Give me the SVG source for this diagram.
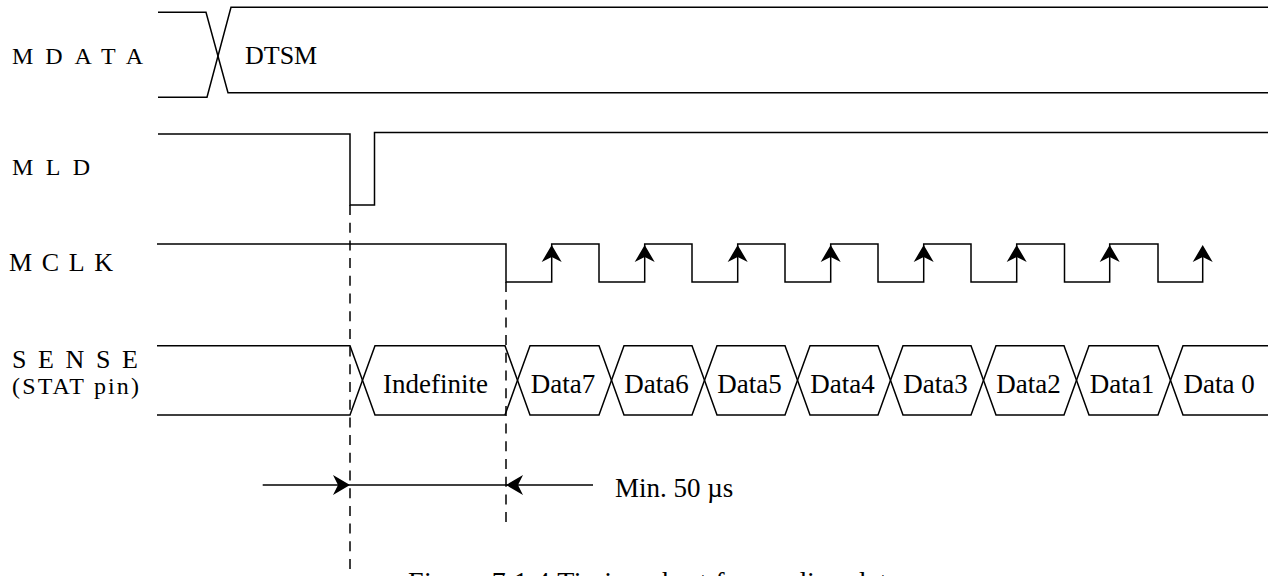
<svg xmlns="http://www.w3.org/2000/svg" xmlns:xlink="http://www.w3.org/1999/xlink" width="1272" height="576" viewBox="0 0 1272 576">
<style>
.sig{fill:none;stroke:#000;stroke-width:1.5;stroke-linejoin:miter}
.dash{fill:none;stroke:#000;stroke-width:1.5;stroke-dasharray:10 7.7}
.lbl{font-family:"Liberation Serif","Times New Roman",serif;fill:#000}
.cell{font-family:"Liberation Serif","Times New Roman",serif;font-size:27px;fill:#000;text-anchor:middle}
.ah{fill:#000;stroke:none}
</style>
<defs>
<path id="ah" d="M0,0 L-10,17 L0,12 L10,17 Z"/>
</defs>
<rect width="1272" height="576" fill="#fff"/>

<g id="mdata">
<text class="lbl" x="12" y="64" font-size="24" textLength="131" lengthAdjust="spacing">MDATA</text>
<polyline class="sig" points="158,12.3 206,12.3 228,92.7 1268,92.7"/>
<polyline class="sig" points="158,97.3 207,97.3 231,7.3 1268,7.3"/>
<text class="lbl" x="245" y="64.3" font-size="26">DTSM</text>
</g>

<g id="mld">
<text class="lbl" x="12" y="175" font-size="24" textLength="78" lengthAdjust="spacing">MLD</text>
<polyline class="sig" points="158,134 350,134 350,205 374.5,205 374.5,132.5 1268,132.5"/>
</g>

<g id="mclk">
<text class="lbl" x="9" y="270.7" font-size="26" textLength="104" lengthAdjust="spacing">MCLK</text>
<path class="sig" d="M157,244 H506 V282 H551.7 V244 H599 V282 H644.7 V244 H692 V282 H737.7 V244 H785 V282 H830.7 V244 H878 V282 H923.7 V244 H971 V282 H1016.7 V244 H1064.5 V282 H1109.7 V244 H1158 V282 H1202.7 V252"/>
<use class="ah" xlink:href="#ah" transform="translate(551.7,245)"/>
<use class="ah" xlink:href="#ah" transform="translate(644.7,245)"/>
<use class="ah" xlink:href="#ah" transform="translate(737.7,245)"/>
<use class="ah" xlink:href="#ah" transform="translate(830.7,245)"/>
<use class="ah" xlink:href="#ah" transform="translate(923.7,245)"/>
<use class="ah" xlink:href="#ah" transform="translate(1016.7,245)"/>
<use class="ah" xlink:href="#ah" transform="translate(1109.7,245)"/>
<use class="ah" xlink:href="#ah" transform="translate(1202.7,245)"/>
</g>

<g id="sense">
<text class="lbl" x="12" y="367.7" font-size="26" textLength="126" lengthAdjust="spacing">SENSE</text>
<text class="lbl" x="12" y="393.5" font-size="24" textLength="127" lengthAdjust="spacing">(STAT pin)</text>
<polyline class="sig" points="157,345.7 350,345.7 362.5,380.35"/>
<polyline class="sig" points="157,415 350,415 362.5,380.35"/>
<polygon class="sig" points="362.5,380.35 375,345.7 505,345.7 517.5,380.35 505,415 375,415"/>
<polygon class="sig" points="517.5,380.35 530,345.7 599,345.7 611.5,380.35 599,415 530,415"/>
<polygon class="sig" points="611.5,380.35 624,345.7 692,345.7 704.5,380.35 692,415 624,415"/>
<polygon class="sig" points="704.5,380.35 717,345.7 785,345.7 797.5,380.35 785,415 717,415"/>
<polygon class="sig" points="797.5,380.35 810,345.7 878,345.7 890.5,380.35 878,415 810,415"/>
<polygon class="sig" points="890.5,380.35 903,345.7 971,345.7 983.5,380.35 971,415 903,415"/>
<polygon class="sig" points="983.5,380.35 996,345.7 1064,345.7 1076.5,380.35 1064,415 996,415"/>
<polygon class="sig" points="1076.5,380.35 1089,345.7 1158,345.7 1170.5,380.35 1158,415 1089,415"/>
<polyline class="sig" points="1268,345.7 1183,345.7 1170.5,380.35 1183,415 1268,415"/>
<text class="cell" x="435.5" y="392.7">Indefinite</text>
<text class="cell" x="563" y="392.7">Data7</text>
<text class="cell" x="656.5" y="392.7">Data6</text>
<text class="cell" x="749.5" y="392.7">Data5</text>
<text class="cell" x="842.5" y="392.7">Data4</text>
<text class="cell" x="935.5" y="392.7">Data3</text>
<text class="cell" x="1028.5" y="392.7">Data2</text>
<text class="cell" x="1122" y="392.7">Data1</text>
<text class="cell" x="1183.5" y="392.7" style="text-anchor:start">Data 0</text>
</g>

<g id="connectors">
<line class="dash" x1="350" y1="205" x2="350" y2="576"/>
<line class="dash" x1="506" y1="282" x2="506" y2="527"/>
<line class="sig" x1="262.7" y1="485" x2="593" y2="485"/>
<use class="ah" xlink:href="#ah" transform="translate(350,485) rotate(90)"/>
<use class="ah" xlink:href="#ah" transform="translate(506,485) rotate(-90)"/>
</g>

<g id="annotations">
<text class="lbl" x="615" y="497" font-size="27">Min. 50 µs</text>
<text class="lbl" x="408" y="591" font-size="28" textLength="492" lengthAdjust="spacing">Figure 7.1.4 Timing chart for reading data</text>
</g>
</svg>
